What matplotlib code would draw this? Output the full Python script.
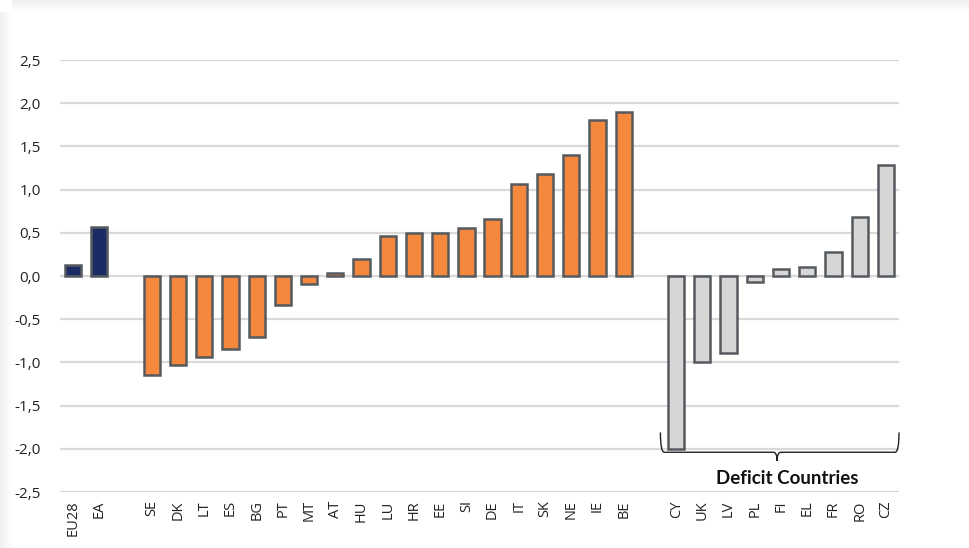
import matplotlib
matplotlib.use("Agg")
import matplotlib.pyplot as plt
from matplotlib.patches import Rectangle
from matplotlib.path import Path
from matplotlib.patches import PathPatch
import numpy as np

# Data
agg_labels = ["EU28", "EA"]
agg_values = [0.13, 0.57]
surplus_labels = ["SE", "DK", "LT", "ES", "BG", "PT", "MT", "AT", "HU", "LU",
                  "HR", "EE", "SI", "DE", "IT", "SK", "NE", "IE", "BE"]
surplus_values = [-1.15, -1.03, -0.94, -0.84, -0.71, -0.34, -0.09, 0.03, 0.20, 0.46,
                  0.50, 0.50, 0.55, 0.66, 1.06, 1.18, 1.40, 1.81, 1.90]
deficit_labels = ["CY", "UK", "LV", "PL", "FI", "EL", "FR", "RO", "CZ"]
deficit_values = [-2.0, -0.99, -0.89, -0.07, 0.08, 0.10, 0.28, 0.68, 1.28]
yticks = [-2.5, -2.0, -1.5, -1.0, -0.5, 0.0, 0.5, 1.0, 1.5, 2.0, 2.5]

navy = "#1C2B63"
orange = "#F4883C"
lgrey = "#D6D6D6"
edge = "#555A5F"

fig = plt.figure(figsize=(9.69, 5.48), dpi=100)
fig.patch.set_facecolor("white")

# soft shadow at left/top edges
for i in range(12):
    a = 0.12 * (1 - i / 12)
    fig.patches.append(Rectangle((i / 969, 0), 1 / 969, 1 - 12 / 548, transform=fig.transFigure,
                                 facecolor="#888888", alpha=a, edgecolor="none"))
    fig.patches.append(Rectangle((12 / 969, 1 - (i + 1) / 548), 1 - 12 / 969, 1 / 548,
                                 transform=fig.transFigure,
                                 facecolor="#888888", alpha=a, edgecolor="none"))

ax = fig.add_axes([60 / 969, 1 - 492 / 548, (899 - 60) / 969, (492 - 60) / 548])

x_agg = np.arange(len(agg_labels))
x_sur = np.arange(len(surplus_labels)) + len(agg_labels) + 1
x_def = np.arange(len(deficit_labels)) + x_sur[-1] + 2

w = 0.62
lw = 1.8
ax.bar(x_agg, agg_values, w, color=navy, edgecolor=edge, linewidth=lw, zorder=3)
ax.bar(x_sur, surplus_values, w, color=orange, edgecolor=edge, linewidth=lw, zorder=3)
ax.bar(x_def, deficit_values, w, color=lgrey, edgecolor=edge, linewidth=lw, zorder=3)

ax.set_xlim(-0.5, x_def[-1] + 0.5)
ax.set_ylim(-2.5, 2.5)
ax.set_yticks(yticks)
ax.set_yticklabels([f"{v:.1f}".replace(".", ",") for v in yticks],
                   fontsize=11, color="#222222", family="Open Sans")
ax.yaxis.grid(True, color="#D9D9D9", linewidth=1.6, zorder=0)
ax.set_axisbelow(True)

xt = list(x_agg) + list(x_sur) + list(x_def)
xl = agg_labels + surplus_labels + deficit_labels
ax.set_xticks(xt)
ax.set_xticklabels(xl, rotation=90, fontsize=10.5, color="#222222", family="Open Sans")
ax.tick_params(axis="both", length=0)
ax.tick_params(axis="y", pad=14)
ax.tick_params(axis="x", pad=6)
for s in ax.spines.values():
    s.set_visible(False)

# brace under deficit countries
x0 = x_def[0] - 0.6
x1 = x_def[-1] + 0.5
xm = (x0 + x1) / 2 - 0.1
ytop = -1.81
ybot = -2.04
ytip = -2.14
verts = [(x0, ytop), (x0, ybot), (x0 + 0.15, ybot), (xm - 0.15, ybot), (xm, ybot), (xm, ytip),
         (xm, ybot), (xm + 0.15, ybot), (x1 - 0.15, ybot), (x1, ybot), (x1, ytop)]
codes = [Path.MOVETO, Path.CURVE3, Path.CURVE3, Path.LINETO, Path.CURVE3, Path.CURVE3,
         Path.CURVE3, Path.CURVE3, Path.LINETO, Path.CURVE3, Path.CURVE3]
ax.add_patch(PathPatch(Path(verts, codes), facecolor="none", edgecolor="#222222",
                       linewidth=1.0, zorder=4, clip_on=False))
ax.text(xm + 0.4, -2.34, "Deficit Countries", ha="center", va="center",
        fontsize=13.5, fontweight="bold", family="Lato", color="#111111", zorder=5)

fig.savefig("out.png", dpi=100, facecolor="white")
